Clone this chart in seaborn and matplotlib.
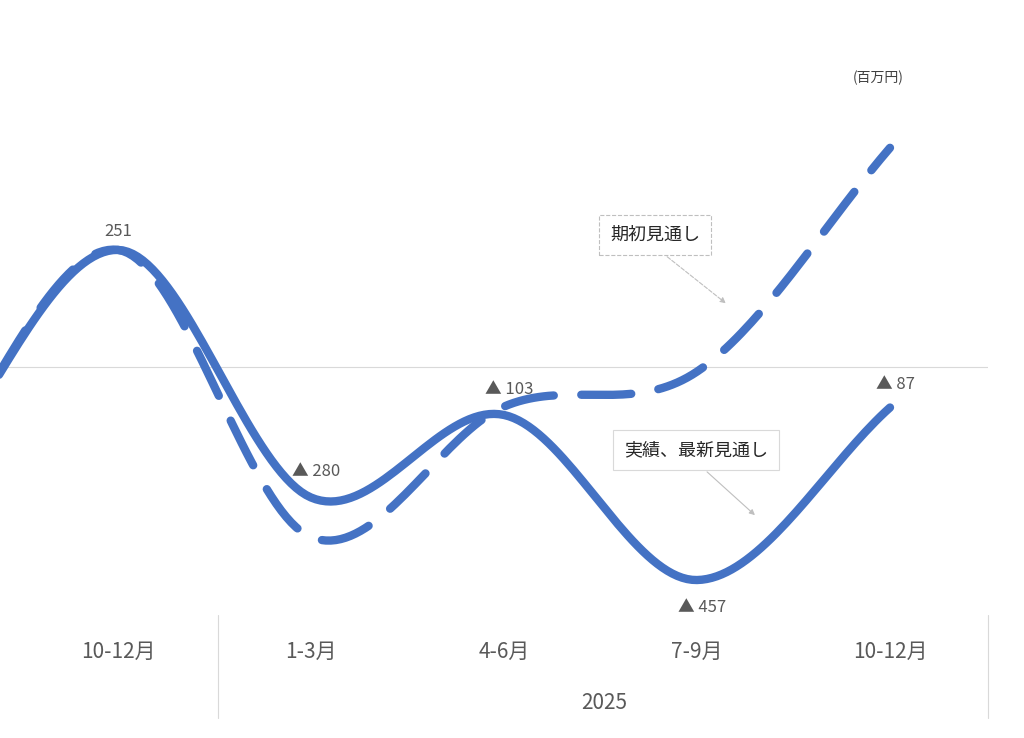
import numpy as np
import matplotlib
matplotlib.use("Agg")
import matplotlib.pyplot as plt
import seaborn as sns

categories = ["10-12月", "1-3月", "4-6月", "7-9月", "10-12月"]
actual = [251, -280, -103, -457, -87]
initial = [251, -365, -85, -10, 470]
prev_value = -260  # quarter before the first shown one (off-chart start)
labels = ["251", "▲ 280", "▲ 103", "▲ 457", "▲ 87"]
year_label = "2025"
unit = "(百万円)"

sns.set_theme(style="white")
plt.rcParams['font.family'] = ['Noto Sans CJK JP', 'DejaVu Sans']

def smooth(xs, ys, n=40):
    xs = np.asarray(xs, float); ys = np.asarray(ys, float)
    P = np.concatenate([[2*ys[0]-ys[1]], ys, [2*ys[-1]-ys[-2]]])
    X = np.concatenate([[2*xs[0]-xs[1]], xs, [2*xs[-1]-xs[-2]]])
    ox, oy = [], []
    for i in range(1, len(P)-2):
        t = np.linspace(0, 1, n)
        for arr, out in ((X, ox), (P, oy)):
            p0, p1, p2, p3 = arr[i-1], arr[i], arr[i+1], arr[i+2]
            out.extend(0.5*((2*p1) + (-p0+p2)*t + (2*p0-5*p1+4*p2-p3)*t**2 + (-p0+3*p1-3*p2+p3)*t**3))
    return np.array(ox), np.array(oy)

W, H = 1024, 738
fig = plt.figure(figsize=(W/100, H/100), dpi=100)
ax = fig.add_axes([0, (H-615)/H, 988/W, 615/H])
xs = np.arange(-1, len(categories))
color = "#4472C4"
sx, sy = smooth(xs, [prev_value] + actual)
ax.plot(sx, sy, color=color, lw=6, solid_capstyle='round', zorder=3)
dx, dy = smooth(xs, [prev_value] + initial)
ax.plot(dx, dy, color=color, lw=6, dashes=(6, 3.3), dash_capstyle='round', zorder=2)
ax.axhline(0, color="#d9d9d9", lw=0.8, zorder=1)
ax.set_xlim(-118/193, (988-118)/193)
ax.set_ylim(-532, 787)
ax.axis("off")

offs = [(0, 10, 'bottom'), (0, 10, 'bottom'), (0, 10, 'bottom'), (0, -14, 'top'), (0, 10, 'bottom')]
lab_pos = [(0, 251), (1, -280), (2, -103), (3, -457), (4, -87)]
ypix = [232, 472, 389, 607, 384]
for i, (lab, yp) in enumerate(zip(labels, ypix)):
    fig.text((118+193*i + (0 if i == 0 else 5))/W, 1-yp/H, lab, ha='center', va='center',
             fontsize=12, color="#595959")

for i, c in enumerate(categories):
    fig.text((118+193*i)/W, 1-652/H, c, ha='center', va='center', fontsize=15, color="#595959")
fig.text(604/W, 1-703/H, year_label, ha='center', va='center', fontsize=15, color="#595959")
fig.text(878/W, 1-78/H, unit, ha='center', va='center', fontsize=10, color="#404040")
for xp in (218, 988):
    fig.add_artist(plt.Line2D([xp/W, xp/W], [1-615/H, 1-718/H], color="#d9d9d9", lw=0.8))

fig.text(655/W, 1-235/H, "期初見通し", ha='center', va='center', fontsize=13, color="#262626",
         bbox=dict(boxstyle='square,pad=0.6', fc='white', ec='#bfbfbf', ls='--', lw=0.8))
fig.add_artist(matplotlib.patches.FancyArrowPatch((665/W, 1-255/H), (728/W, 1-305/H),
               transform=fig.transFigure, arrowstyle='-|>', mutation_scale=8, color='#bfbfbf', ls='--', lw=0.8))
fig.text(696/W, 1-450/H, "実績、最新見通し", ha='center', va='center', fontsize=13, color="#262626",
         bbox=dict(boxstyle='square,pad=0.6', fc='white', ec='#d9d9d9', lw=0.8))
fig.add_artist(matplotlib.patches.FancyArrowPatch((705/W, 1-470/H), (757/W, 1-517/H),
               transform=fig.transFigure, arrowstyle='-|>', mutation_scale=8, color='#bfbfbf', lw=0.8))

fig.savefig("out.png", dpi=100)
